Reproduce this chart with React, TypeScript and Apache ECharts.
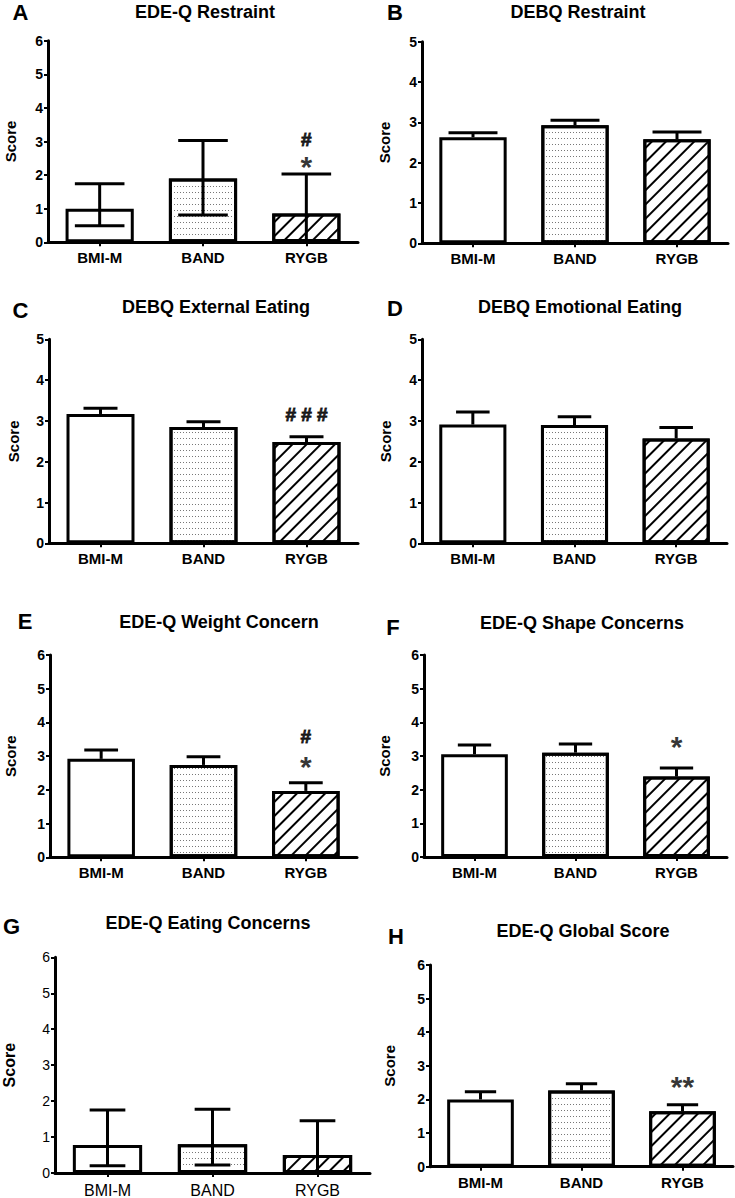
import React, { useEffect, useRef } from 'react';
import * as echarts from 'echarts';

const FONT = '"Liberation Sans", Arial, Helvetica, sans-serif';

const categories = ['BMI-M', 'BAND', 'RYGB'];

// A: EDE-Q Restraint (median with range-type whiskers)
const aMean = [1.0, 1.9, 0.86];
const aLow = [0.49, 0.81, 0.05];
const aHigh = [1.74, 3.03, 2.03];
const aNotes: [string, number, string][] = [['RYGB', 3.07, '#'], ['RYGB', 2.45, '*']];

// B: DEBQ Restraint
const bMean = [2.63, 2.93, 2.58];
const bHigh = [2.74, 3.05, 2.76];

// C: DEBQ External Eating
const cMean = [3.17, 2.85, 2.48];
const cHigh = [3.31, 2.98, 2.61];
const cNotes: [string, number, string][] = [['RYGB', 3.15, '# # #']];

// D: DEBQ Emotional Eating
const dMean = [2.91, 2.9, 2.57];
const dHigh = [3.22, 3.1, 2.84];

// E: EDE-Q Weight Concern
const eMean = [2.92, 2.74, 1.97];
const eHigh = [3.18, 2.98, 2.21];
const eNotes: [string, number, string][] = [['RYGB', 3.58, '#'], ['RYGB', 2.89, '*']];

// F: EDE-Q Shape Concerns
const fMean = [3.05, 3.1, 2.39];
const fHigh = [3.33, 3.36, 2.64];
const fNotes: [string, number, string][] = [['RYGB', 3.48, '*']];

// G: EDE-Q Eating Concerns
const gMean = [0.78, 0.8, 0.5];
const gLow = [0.2, 0.22, 0.0];
const gHigh = [1.75, 1.77, 1.45];

// H: EDE-Q Global Score
const hMean = [2.0, 2.27, 1.65];
const hHigh = [2.23, 2.47, 1.84];
const hNotes: [string, number, string][] = [['RYGB', 2.6, '**']];

const yMaxA = 6;
const yMaxB = 5;

type Panel = {
  letter: string;
  title: string;
  max: number;
  mean: number[];
  low: number[] | null;
  high: number[];
  notes: [string, number, string][];
  grid: { left: number; top: number; width: number; height: number };
  titlePos: [number, number];
  letterPos: [number, number];
  nameGap: number;
  cap: number;
  light: boolean;
};

const panels: Panel[] = [
  { letter: 'A', title: 'EDE-Q Restraint', max: yMaxA, mean: aMean, low: aLow, high: aHigh, notes: aNotes,
    grid: { left: 48, top: 40.7, width: 310, height: 201.6 }, titlePos: [205, 12], letterPos: [20.5, 12], nameGap: 30, cap: 0.48, light: false },
  { letter: 'B', title: 'DEBQ Restraint', max: yMaxB, mean: bMean, low: null, high: bHigh, notes: [],
    grid: { left: 422, top: 41.7, width: 306, height: 201.6 }, titlePos: [578, 12], letterPos: [395, 12.5], nameGap: 30, cap: 0.48, light: false },
  { letter: 'C', title: 'DEBQ External Eating', max: yMaxB, mean: cMean, low: null, high: cHigh, notes: cNotes,
    grid: { left: 49, top: 339.3, width: 309, height: 204 }, titlePos: [216, 307], letterPos: [20.5, 310], nameGap: 28, cap: 0.33, light: false },
  { letter: 'D', title: 'DEBQ Emotional Eating', max: yMaxB, mean: dMean, low: null, high: dHigh, notes: [],
    grid: { left: 422, top: 339.3, width: 305, height: 204 }, titlePos: [580, 307], letterPos: [395, 308.5], nameGap: 29, cap: 0.33, light: false },
  { letter: 'E', title: 'EDE-Q Weight Concern', max: yMaxA, mean: eMean, low: null, high: eHigh, notes: eNotes,
    grid: { left: 50, top: 655, width: 307, height: 202.3 }, titlePos: [219, 622], letterPos: [25, 621.5], nameGap: 32, cap: 0.33, light: false },
  { letter: 'F', title: 'EDE-Q Shape Concerns', max: yMaxA, mean: fMean, low: null, high: fHigh, notes: fNotes,
    grid: { left: 424, top: 655, width: 303, height: 202 }, titlePos: [582, 623], letterPos: [393, 627], nameGap: 32, cap: 0.33, light: false },
  { letter: 'G', title: 'EDE-Q Eating Concerns', max: yMaxA, mean: gMean, low: gLow, high: gHigh, notes: [],
    grid: { left: 48, top: 957.3, width: 322, height: 216.7 }, titlePos: [208, 923], letterPos: [11.5, 926.5], nameGap: 38, cap: 0.34, light: true },
  { letter: 'H', title: 'EDE-Q Global Score', max: yMaxA, mean: hMean, low: null, high: hHigh, notes: hNotes,
    grid: { left: 430, top: 965, width: 303, height: 201.7 }, titlePos: [583, 931], letterPos: [396, 936], nameGap: 33, cap: 0.31, light: false },
];

const dotDecal = { symbol: 'rect', symbolSize: 1, dashArrayX: [1, 2], dashArrayY: [1, 5], color: '#777777' };
const hatchDecal = { symbol: 'rect', symbolSize: 1, dashArrayX: [1, 0], dashArrayY: [2, 8], rotation: -Math.PI / 4, color: '#000000' };
const decals = [null, dotDecal, hatchDecal];

function buildOption() {
  const grid: any[] = [];
  const xAxis: any[] = [];
  const yAxis: any[] = [];
  const series: any[] = [];
  const graphic: any[] = [];

  panels.forEach((p, k) => {
    grid.push({ ...p.grid, containLabel: false });
    xAxis.push({
      type: 'category',
      gridIndex: k,
      data: categories,
      axisLine: { lineStyle: { color: '#000', width: 3 } },
      axisTick: { show: true, alignWithLabel: true, length: 4, lineStyle: { color: '#000', width: 2 } },
      axisLabel: {
        color: '#000', fontSize: p.light ? 16 : 15, fontWeight: p.light ? 'normal' : 'bold',
        fontFamily: FONT, margin: p.light ? 9 : 8,
      },
      splitLine: { show: false },
    });
    yAxis.push({
      type: 'value',
      gridIndex: k,
      min: 0,
      max: p.max,
      interval: 1,
      name: 'Score',
      nameLocation: 'middle',
      nameGap: p.nameGap,
      nameRotate: 90,
      nameTextStyle: { color: '#000', fontSize: p.light ? 16 : 15, fontWeight: 'bold', fontFamily: FONT },
      axisLine: { show: true, lineStyle: { color: '#000', width: 3 } },
      axisTick: { show: true, length: 4, lineStyle: { color: '#000', width: 2 } },
      axisLabel: {
        color: '#000', fontSize: 14, fontWeight: p.light ? 'normal' : 'bold',
        fontFamily: FONT, margin: 5,
      },
      splitLine: { show: false },
    });

    series.push({
      type: 'bar',
      xAxisIndex: k,
      yAxisIndex: k,
      barWidth: '66%',
      z: 2,
      data: p.mean.map((v, i) => ({
        value: v,
        itemStyle: {
          color: '#ffffff',
          borderColor: '#000',
          borderWidth: 3,
          ...(decals[i] ? { decal: decals[i] } : {}),
        },
      })),
    });

    const capRatio = p.cap;
    series.push({
      type: 'custom',
      xAxisIndex: k,
      yAxisIndex: k,
      z: 5,
      renderItem: (_params: any, api: any) => {
        const x = api.value(0);
        const lo = api.value(1);
        const hi = api.value(2);
        const mean = api.value(3);
        const pHi = api.coord([x, hi]);
        const pLo = api.coord([x, lo]);
        const hw = (api.size([1, 0])[0] * capRatio) / 2;
        const style = { stroke: '#000', lineWidth: 3, fill: 'none' };
        const children: any[] = [
          { type: 'line', shape: { x1: pHi[0], y1: pHi[1], x2: pLo[0], y2: pLo[1] }, style },
          { type: 'line', shape: { x1: pHi[0] - hw, y1: pHi[1], x2: pHi[0] + hw, y2: pHi[1] }, style },
        ];
        if (lo < mean - 1e-6) {
          children.push({ type: 'line', shape: { x1: pLo[0] - hw, y1: pLo[1], x2: pLo[0] + hw, y2: pLo[1] }, style });
        }
        return { type: 'group', children };
      },
      data: p.mean.map((v, i) => [i, p.low ? p.low[i] : v, p.high[i], v]),
    });

    if (p.notes.length) {
      series.push({
        type: 'scatter',
        xAxisIndex: k,
        yAxisIndex: k,
        z: 6,
        symbolSize: 1,
        itemStyle: { color: 'rgba(0,0,0,0)' },
        data: p.notes.map((n) => {
          const star = n[2].indexOf('*') >= 0;
          return {
            value: [n[0], n[1]],
            label: {
              show: true,
              position: 'inside',
              formatter: n[2],
              color: '#000',
              fontFamily: FONT,
              fontWeight: 'bold',
              fontSize: star ? 30 : 19,
              offset: star ? [0, 7] : [0, 0],
              textBorderColor: '#000',
              textBorderWidth: star ? 0 : 1,
            },
          };
        }),
      });
    }

    graphic.push({
      type: 'text',
      x: p.titlePos[0],
      y: p.titlePos[1],
      style: {
        text: p.title, fill: '#000', fontSize: 18, fontWeight: 'bold', fontFamily: FONT,
        align: 'center', verticalAlign: 'middle', textAlign: 'center', textVerticalAlign: 'middle',
      },
    });
    graphic.push({
      type: 'text',
      x: p.letterPos[0],
      y: p.letterPos[1],
      style: {
        text: p.letter, fill: '#000', fontSize: 22, fontWeight: 'bold', fontFamily: FONT,
        align: 'center', verticalAlign: 'middle', textAlign: 'center', textVerticalAlign: 'middle',
      },
    });
  });

  return {
    animation: false,
    backgroundColor: '#ffffff',
    grid,
    xAxis,
    yAxis,
    series,
    graphic,
  };
}

export default function App() {
  const ref = useRef<HTMLDivElement>(null);
  useEffect(() => {
    if (!ref.current) return;
    const chart = echarts.init(ref.current, undefined, { renderer: 'svg' });
    chart.setOption(buildOption() as any);
    return () => chart.dispose();
  }, []);
  return <div ref={ref} style={{ position: 'fixed', left: 0, top: 0, width: 735, height: 1198, background: '#fff' }} />;
}
